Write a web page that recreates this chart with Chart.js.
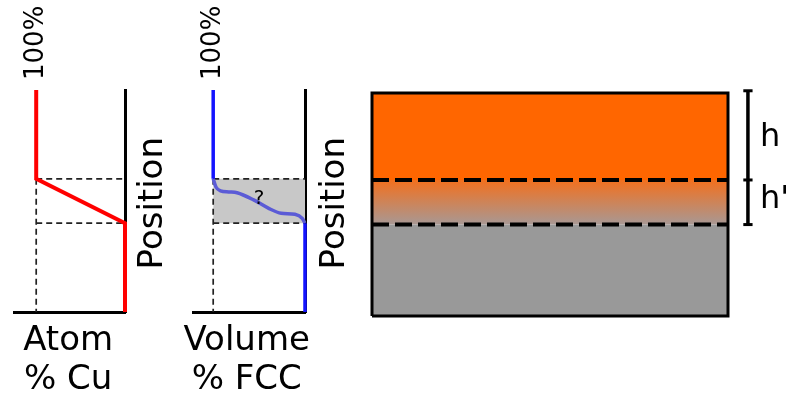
<!DOCTYPE html>
<html>
<head>
<meta charset="utf-8">
<title>Cu / FCC profile</title>
<script src="https://cdn.jsdelivr.net/npm/chart.js@4.4.1/dist/chart.umd.min.js"></script>
<style>
  html, body { margin: 0; padding: 0; background: #fff; overflow: hidden; }
  .panel { position: absolute; top: 0; height: 396px; }
</style>
</head>
<body>
<div class="panel" style="left:0; width:180px"><canvas id="cuChart"></canvas></div>
<div class="panel" style="left:180px; width:180px"><canvas id="fccChart"></canvas></div>
<div class="panel" style="left:360px; width:426px"><canvas id="layerChart"></canvas></div>

<script>
// position runs 0 (bottom of sample) to 1 (top)
const interfaceLevels = [0.6, 0.4];

// Atom % Cu vs position
const cuPosition = [1, 0.6, 0.4, 0];
const cuPercent = [100, 100, 0, 0];

// Volume % FCC vs position (sharp parts + uncertain transition)
const fccUpperPosition = [1, 0.6];
const fccUpperPercent = [100, 100];
const fccLowerPosition = [0.4, 0];
const fccLowerPercent = [0, 0];
const fccCurvePosition = [0.6, 0.563, 0.546, 0.541, 0.537, 0.505, 0.468, 0.445, 0.44, 0.422, 0.4];
const fccCurvePercent = [100, 97, 92, 83, 74, 56, 40, 26, 11, 3, 0];

// layered sample: top, h/h' boundary, bottom of h', bottom
const layerLevels = [1, 0.61, 0.41, 0];
const bracketLevels = [1.01, 0.61, 0.41];

const FONT = "'DejaVu Sans', sans-serif";
Chart.defaults.font.family = FONT;
Chart.defaults.color = "#000";

function pts(xs, ys) {
  return xs.map((x, i) => ({ x: x, y: ys[i] }));
}

// free text placed on the chart's own scales
const notesPlugin = {
  id: "notes",
  afterDraw(chart, args, opts) {
    const ctx = chart.ctx;
    (opts.items || []).forEach((n) => {
      const px = chart.scales.x.getPixelForValue(n.x);
      const py = chart.scales.y.getPixelForValue(n.y);
      ctx.save();
      ctx.translate(px, py);
      if (n.rotate) ctx.rotate(n.rotate);
      ctx.font = n.font;
      ctx.fillStyle = "#000";
      ctx.textAlign = n.align || "center";
      ctx.textBaseline = "middle";
      ctx.fillText(n.text, 0, 0);
      ctx.restore();
    });
  },
};

function line(data, color, width, extra) {
  return Object.assign(
    { data: data, borderColor: color, borderWidth: width, fill: false, clip: false, tension: 0 },
    extra || {}
  );
}

function guides(levels) {
  const dash = { borderDash: [6, 4] };
  const sets = levels.map((lv) => line(pts([100, 0], [lv, lv]), "#222", 1.7, dash));
  sets.push(line(pts([100, 100], [levels[0], 0]), "#222", 1.7, dash));
  return sets;
}

function noPad(s) {
  s.paddingLeft = 0;
  s.paddingRight = 0;
}

function profileOptions(xMax, padLeft, notes) {
  return {
    responsive: true,
    maintainAspectRatio: false,
    animation: false,
    layout: { padding: { left: padLeft, right: 0, top: 0, bottom: 0 } },
    elements: { point: { radius: 0 } },
    plugins: { legend: { display: false }, tooltip: { enabled: false }, notes: { items: notes } },
    scales: {
      x: {
        type: "linear", min: 0, max: xMax, reverse: true, position: "bottom",
        grid: { display: false, drawTicks: false },
        ticks: { display: false },
        border: { display: true, color: "#000", width: 3 },
        afterFit(s) { s.height = 84; noPad(s); },
      },
      x2: {
        type: "linear", min: 0, max: xMax, reverse: true, position: "top",
        grid: { display: false, drawTicks: false },
        border: { display: false },
        afterBuildTicks(s) { s.ticks = [{ value: 100 }]; },
        ticks: {
          minRotation: 90, maxRotation: 90, autoSkip: false, padding: 10,
          font: { size: 26, lineHeight: 0 }, color: "#000",
          callback: (v) => v + "%",
        },
        afterFit(s) { s.height = 90; noPad(s); },
      },
      y: {
        type: "linear", min: 0, max: 1, position: "right",
        grid: { display: false, drawTicks: false },
        ticks: { display: false },
        border: { display: true, color: "#000", width: 3 },
        afterFit(s) { s.width = 55; },
      },
    },
  };
}

const big = "34px " + FONT;

// Atom % Cu
new Chart(document.getElementById("cuChart"), {
  type: "line",
  data: {
    datasets: [line(pts(cuPercent, cuPosition), "#ff0000", 4)].concat(guides(interfaceLevels)),
  },
  options: profileOptions(125, 14, [
    { text: "Atom", x: 64, y: -0.133, font: big },
    { text: "% Cu", x: 64, y: -0.309, font: big },
    { text: "Position", x: -31.5, y: 0.49, rotate: -Math.PI / 2, font: big },
  ]),
  plugins: [notesPlugin],
});

// Volume % FCC
new Chart(document.getElementById("fccChart"), {
  type: "line",
  data: {
    datasets: [
      line(pts(fccUpperPercent, fccUpperPosition), "#1414ff", 3.5),
      line(pts(fccLowerPercent, fccLowerPosition), "#1414ff", 3.5),
      line(pts(fccCurvePercent, fccCurvePosition), "#5b5bd6", 3.5, { cubicInterpolationMode: "monotone" }),
    ]
      .concat(guides(interfaceLevels))
      .concat([
        line(pts([100, 0], [interfaceLevels[0], interfaceLevels[0]]), "rgba(0,0,0,0)", 0, {
          fill: { value: interfaceLevels[1] },
          backgroundColor: "#c8c8c8",
        }),
      ]),
  },
  options: profileOptions(122, 13, [
    { text: "?", x: 50, y: 0.51, font: "20px " + FONT },
    { text: "Volume", x: 63.5, y: -0.133, font: big },
    { text: "% FCC", x: 63.5, y: -0.309, font: big },
    { text: "Position", x: -33, y: 0.49, rotate: -Math.PI / 2, font: big },
  ]),
  plugins: [notesPlugin],
});

// layered sample with h / h' bracket
function mixGradient(context) {
  const chart = context.chart;
  if (!chart.chartArea) return "#c08060";
  const y = chart.scales.y;
  const g = chart.ctx.createLinearGradient(0, y.getPixelForValue(layerLevels[1]), 0, y.getPixelForValue(layerLevels[2]));
  g.addColorStop(0, "rgb(242,112,30)");
  g.addColorStop(1, "rgb(168,152,148)");
  return g;
}

const bracketX = 1.056;
const capHalf = 0.013;

new Chart(document.getElementById("layerChart"), {
  type: "line",
  data: {
    datasets: [
      line(pts([bracketX, bracketX], [bracketLevels[0], bracketLevels[2]]), "#000", 3.5),
    ]
      .concat(bracketLevels.map((lv) => line(pts([bracketX - capHalf, bracketX + capHalf], [lv, lv]), "#000", 3)))
      .concat([
        line(pts([0, 1], [layerLevels[1], layerLevels[1]]), "#000", 4, { borderDash: [17, 6] }),
        line(pts([0, 1], [layerLevels[2], layerLevels[2]]), "#000", 4, { borderDash: [17, 6] }),
        line(pts([0, 0, 1, 1, 0], [0, 1, 1, 0, 0]), "#000", 3),
        line(pts([0, 1], [layerLevels[0], layerLevels[0]]), "rgba(0,0,0,0)", 0, {
          fill: { value: layerLevels[1] }, backgroundColor: "#ff6600",
        }),
        line(pts([0, 1], [layerLevels[1], layerLevels[1]]), "rgba(0,0,0,0)", 0, {
          fill: { value: layerLevels[2] }, backgroundColor: mixGradient,
        }),
        line(pts([0, 1], [layerLevels[2], layerLevels[2]]), "rgba(0,0,0,0)", 0, {
          fill: { value: layerLevels[3] }, backgroundColor: "#999999",
        }),
      ]),
  },
  options: {
    responsive: true,
    maintainAspectRatio: false,
    animation: false,
    layout: { padding: { left: 12, right: 58, top: 93, bottom: 80 } },
    elements: { point: { radius: 0 } },
    plugins: {
      legend: { display: false },
      tooltip: { enabled: false },
      notes: {
        items: [
          { text: "h", x: 1.09, y: 0.8, align: "left", font: "32px " + FONT },
          { text: "h'", x: 1.09, y: 0.52, align: "left", font: "32px " + FONT },
        ],
      },
    },
    scales: {
      x: { type: "linear", min: 0, max: 1, display: false },
      y: { type: "linear", min: 0, max: 1, display: false },
    },
  },
  plugins: [notesPlugin],
});
</script>
</body>
</html>
